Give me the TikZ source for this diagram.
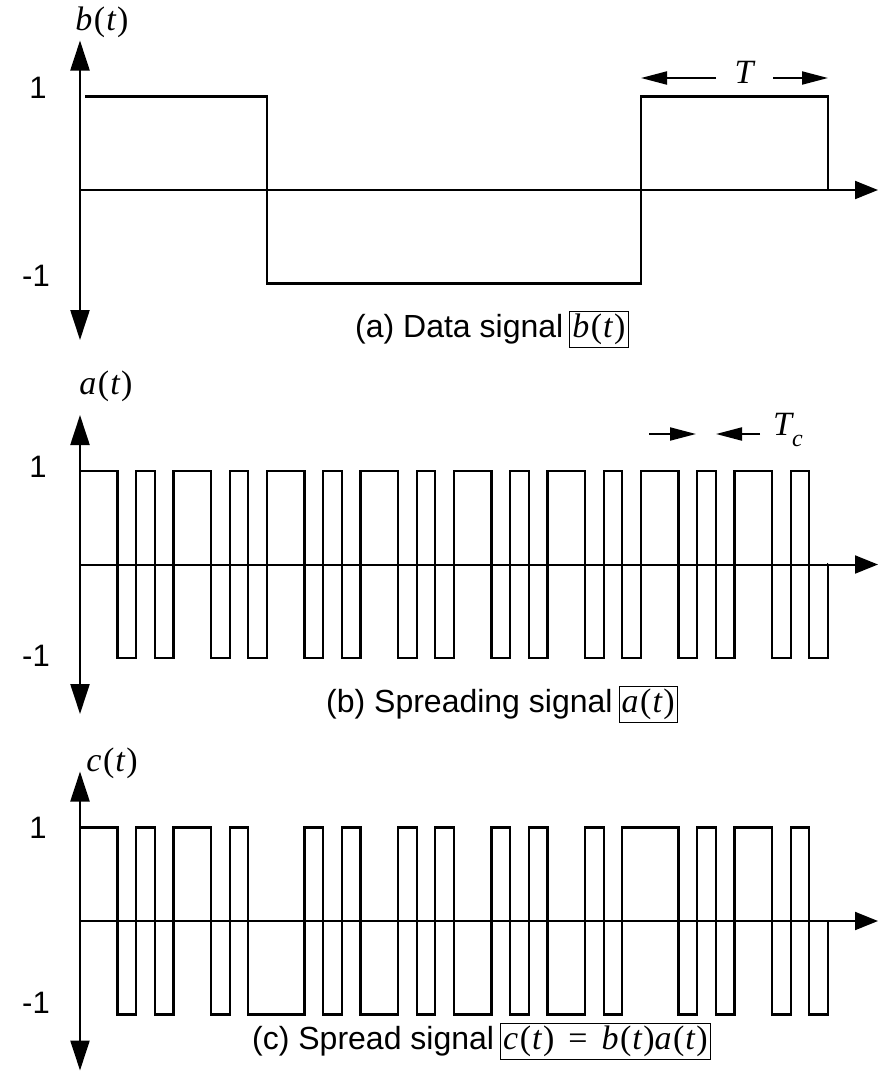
\documentclass[tikz,border=0pt]{standalone}
\usepackage{fontspec}
\setmainfont{Liberation Sans}
\newfontfamily\tms{Liberation Serif}
\usetikzlibrary{positioning,arrows.meta}

% italic function name with upright parentheses
\newcommand\fnt[1]{{\tms\itshape #1\kern1.5pt\upshape(\kern1pt\itshape t\kern1.5pt\upshape)}}
% one period of the spreading code
\newcommand\chips{1,1,-1,1,-1,1,1,-1,1,-1}

\begin{document}
\begin{tikzpicture}[
    x=1pt, y=-1pt,
    taxis/.style={line width=2pt, -{Triangle[length=23pt,width=18pt]}},
    vaxis/.style={line width=2.3pt, {Triangle[length=30pt,width=19pt]}-{Triangle[length=30pt,width=19pt]}},
    sig/.style={line width=2.2pt, line join=miter},
    lvl/.style={font=\fontsize{31}{31}\selectfont, inner sep=0pt},
    fname/.style={font=\fontsize{34}{34}\selectfont, inner sep=0pt},
    captext/.style={font=\fontsize{32}{32}\selectfont, inner sep=0pt, anchor=west},
    capbox/.style={draw, line width=0.8pt, inner sep=2.5pt, font=\fontsize{34}{34}\selectfont},
    dim/.style={line width=2pt, -{Triangle[length=26pt,width=13pt]}},
  ]
  \useasboundingbox (0,0) rectangle (878,1072);

  % (a) data signal
  \draw[vaxis] (80,40.5) -- (80,340);
  \draw[taxis] (80,190) -- (878,190);
  \node[fname] (bt) at (102,22) {\fnt{b}};
  \node[lvl] (a1) at (38,88) {1};
  \node[lvl] (am1) at (36,276) {-1};
  \draw[sig] (85,96.5) -| (267,283.5) -| (641,96.5) -| (828,190);
  \node[fname] (T) at (744,72) {\tms\itshape T};
  \coordinate (Tl) at (641,78);
  \coordinate (Tr) at (828,78);
  \coordinate (Tla) at (716,78);
  \coordinate (Tra) at (773,78);
  \draw[dim] (Tla) -- (Tl);
  \draw[dim] (Tra) -- (Tr);
  \node[captext] (capa) at (355,329) {(a) Data signal};
  \node[capbox, right=6pt of capa] (boxa) {\fnt{b}};

  % (b) spreading signal
  \draw[vaxis] (80,415) -- (80,714);
  \draw[taxis] (80,564.5) -- (878,564.5);
  \node[fname] (at) at (106,386) {\fnt{a}};
  \node[lvl] (b1) at (38,467) {1};
  \node[lvl] (bm1) at (36,656) {-1};
  \draw[sig] (80,471)
    \foreach \k in {0,...,3} {
      \foreach \p [count=\i] in \chips {
        |- ({80+(10*\k+\i)*18.7},{564.5-93.5*(\p)})
      }
    } |- (828,564.5);
  \node[fname] (Tc) at (788,430) {\tms\itshape T\raisebox{-0.3em}{\fontsize{24}{24}\selectfont c}};
  \coordinate (Tcl) at (696,434);
  \coordinate (Tcr) at (716,434);
  \coordinate (Tcla) at (649,434);
  \coordinate (Tcra) at (760,434);
  \draw[dim] (Tcla) -- (Tcl);
  \draw[dim] (Tcra) -- (Tcr);
  \node[captext] (capb) at (326,704) {(b) Spreading signal};
  \node[capbox, right=6pt of capb] (boxb) {\fnt{a}};

  % (c) spread signal
  \draw[vaxis] (80,771.5) -- (80,1070.5);
  \draw[taxis] (80,921) -- (878,921);
  \node[fname] (ct) at (112,763) {\fnt{c}};
  \node[lvl] (c1) at (38,828) {1};
  \node[lvl] (cm1) at (36,1003) {-1};
  \draw[sig] (80,827.5)
    \foreach \b [count=\k from 0] in {1,-1,-1,1} {
      \foreach \p [count=\i] in \chips {
        |- ({80+(10*\k+\i)*18.7},{921-93.5*(\b)*(\p)})
      }
    } |- (828,921);
  \node[captext] (capc) at (252,1041) {(c) Spread signal};
  \node[capbox, right=6pt of capc] (boxc) {\fnt{c}\hspace{14pt}{\tms =}\hspace{14pt}\fnt{b}\fnt{a}};
\end{tikzpicture}
\end{document}
